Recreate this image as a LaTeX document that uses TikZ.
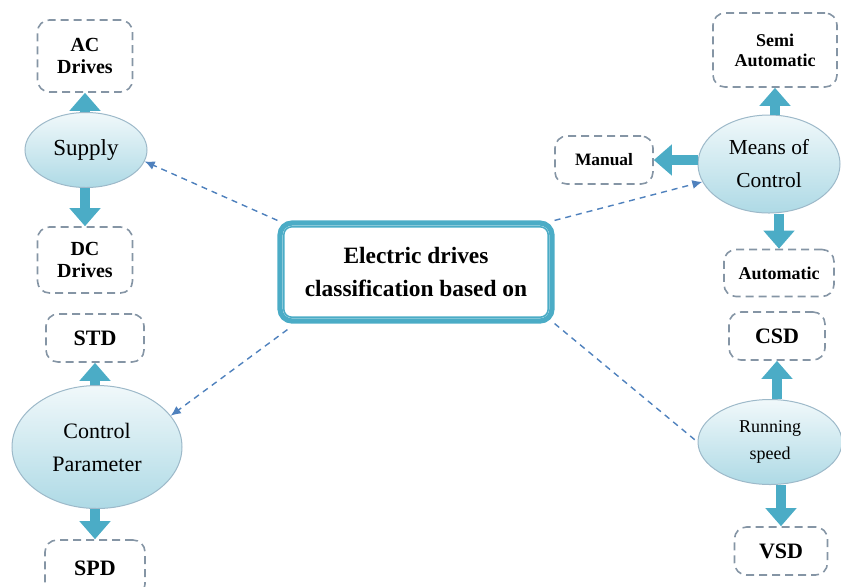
\documentclass[tikz,border=0pt]{standalone}
\usepackage{fontspec}
\setmainfont{Liberation Serif}
\usetikzlibrary{arrows.meta,shapes.geometric}

\definecolor{DriveTeal}{HTML}{4BACC6}
\definecolor{DriveLine}{HTML}{4F81BD}
\definecolor{DriveGray}{HTML}{8595A5}
\definecolor{DriveRim}{HTML}{9DB9C9}

\tikzset{
    leafbox/.style={draw=DriveGray,dashed,dash pattern=on 4pt off 2.5pt,line width=0.8pt,
        rounded corners=6pt,align=center,inner sep=1pt,font=\bfseries},
    topic/.style={ellipse,draw=DriveRim,line width=0.5pt,top color=DriveTeal!8,
        bottom color=DriveTeal!45,align=center,inner sep=0pt},
    fatarrow/.style={DriveTeal,line width=5pt,-{Triangle[width=15pt,length=9pt]}},
    feedline/.style={DriveLine,dashed,dash pattern=on 3pt off 2.5pt,line width=0.7pt,
        -{Latex[length=5pt,width=4.5pt]}}
}

\begin{document}
\begin{tikzpicture}[x=0.5pt,y=-0.5pt]
    \useasboundingbox (0,0) rectangle (841,586);

    \node[draw=DriveTeal,line width=2.6pt,rounded corners=6pt,minimum width=136pt,
        minimum height=49pt,align=center,font=\fontsize{11.7}{16.5}\selectfont\bfseries]
        (classif) at (416,272) {Electric drives\\classification based on};
    \draw[DriveTeal,line width=0.8pt,rounded corners=4pt]
        ([shift={(3.2pt,-3.2pt)}]classif.north west) rectangle ([shift={(-3.2pt,3.2pt)}]classif.south east);

    \node[topic,minimum width=61pt,minimum height=37.5pt,font=\fontsize{11.5}{14}\selectfont]
        (supply) at (86,150) {Supply};
    \node[leafbox,minimum width=47.5pt,minimum height=36pt,font=\fontsize{10}{11}\selectfont\bfseries]
        (ac) at (85,56) {AC\\Drives};
    \node[leafbox,minimum width=47.5pt,minimum height=33pt,font=\fontsize{10}{11}\selectfont\bfseries]
        (dc) at (85,260) {DC\\Drives};
    \draw[fatarrow] (ac.south |- supply.north) -- (ac.south);
    \draw[fatarrow] (dc.north |- supply.south) -- (dc.north);

    \node[topic,minimum width=85pt,minimum height=61.5pt,font=\fontsize{11}{16.5}\selectfont]
        (ctrlparam) at (97,447) {Control\\Parameter};
    \node[leafbox,minimum width=49pt,minimum height=24pt,font=\fontsize{11}{13}\selectfont\bfseries]
        (std) at (95,338) {STD};
    \node[leafbox,minimum width=50pt,minimum height=28pt,font=\fontsize{11}{13}\selectfont\bfseries]
        (spd) at (95,568) {SPD};
    \draw[fatarrow] (std.south |- ctrlparam.north) -- (std.south);
    \draw[fatarrow] (spd.north |- ctrlparam.south) -- (spd.north);

    \node[topic,minimum width=71pt,minimum height=49pt,font=\fontsize{10.7}{16.5}\selectfont]
        (meansctrl) at (769,164) {Means of\\Control};
    \node[leafbox,minimum width=62pt,minimum height=37pt,font=\fontsize{9}{10}\selectfont\bfseries]
        (semi) at (775,50) {Semi\\Automatic};
    \node[leafbox,minimum width=49pt,minimum height=24pt,font=\fontsize{8.7}{10}\selectfont\bfseries]
        (manual) at (604,160) {Manual};
    \node[leafbox,minimum width=55pt,minimum height=23.5pt,font=\fontsize{9}{10}\selectfont\bfseries]
        (auto) at (779,273) {Automatic};
    \draw[fatarrow] (semi.south |- meansctrl.north) -- (semi.south);
    \draw[fatarrow] (manual.east -| meansctrl.west) -- (manual.east);
    \draw[fatarrow] (auto.north |- meansctrl.south) -- (auto.north);

    \node[topic,minimum width=72pt,minimum height=42.5pt,font=\fontsize{9}{13.5}\selectfont]
        (running) at (770,442) {Running\\speed};
    \node[leafbox,minimum width=48pt,minimum height=24pt,font=\fontsize{11}{13}\selectfont\bfseries]
        (csd) at (777,336) {CSD};
    \node[leafbox,minimum width=46.5pt,minimum height=24pt,font=\fontsize{11}{13}\selectfont\bfseries]
        (vsd) at (781,551) {VSD};
    \draw[fatarrow] (csd.south |- running.north) -- (csd.south);
    \draw[fatarrow] (vsd.north |- running.south) -- (vsd.north);

    \draw[feedline] (classif.north west) -- (supply.-11);
    \draw[feedline] ([shift={(5pt,-3pt)}]classif.south west) -- (ctrlparam.23);
    \draw[feedline] (classif.north east) -- (meansctrl.195);
    \draw[feedline,-] (classif.south east) -- (running.180);
\end{tikzpicture}
\end{document}
